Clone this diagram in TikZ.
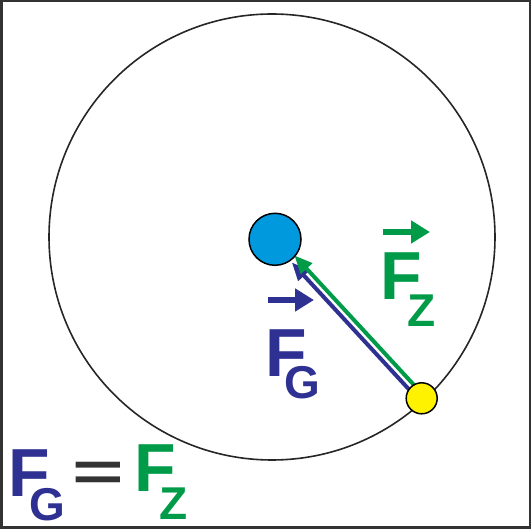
\documentclass[tikz,border=0pt]{standalone}
\usepackage{fontspec}
\setmainfont{Liberation Sans}
\usetikzlibrary{arrows.meta,calc}
\definecolor{fnavy}{HTML}{2E3192}
\definecolor{fgreen}{HTML}{009B48}
\definecolor{fblue}{HTML}{0099DD}
\definecolor{fyellow}{HTML}{FFF200}
\pgfdeclarelayer{bg}
\pgfsetlayers{bg,main}
\tikzset{
  bigF/.style={anchor=base west,inner sep=0pt,font=\fontsize{68}{68}\selectfont\bfseries},
  subL/.style={anchor=base west,inner sep=0pt,font=\fontsize{46}{46}\selectfont\bfseries},
  vecarrow/.style={line width=6pt,-{Triangle[length=19pt,width=22pt]}},
  forceline/.style={line width=4pt,-{Triangle[length=18pt,width=15pt]}},
  dot/.style={circle,draw=black,line width=1.5pt,inner sep=0pt}
}
\begin{document}
\begin{tikzpicture}[x=1pt,y=-1pt]
\useasboundingbox (0,0) rectangle (531,529);
\draw[line width=2.5pt,black!80] (1.25,1.25) rectangle (529.75,527.75);
% orbit
\node[circle,draw=black!85,line width=1.6pt,minimum size=446pt,inner sep=0pt] (orbit) at (272,237) {};
% bodies
\node[dot,fill=fblue,minimum size=52pt] (blu) at (275,239.3) {};
\node[dot,fill=fyellow,minimum size=31pt] (yel) at (421.7,398.3) {};
% force lines
\begin{pgfonlayer}{bg}
\draw[forceline,fnavy,shorten >=28.5pt] ($(yel.center)+(-2.45,2.25)$) -- ($(blu.center)+(-2.45,2.25)$);
\draw[forceline,fgreen,shorten >=25pt] ($(yel.center)+(2.45,-2.25)$) -- ($(blu.center)+(2.45,-2.25)$);
\end{pgfonlayer}
% F_G label
\node[bigF,text=fnavy] (fgF) at (265,376.5) {F};
\node[subL,text=fnavy] (fgG) at (284.5,399) {G};
\coordinate (fgA1) at (268,300);
\coordinate (fgA2) at (314,300);
\draw[vecarrow,fnavy] (fgA1) -- (fgA2);
% F_Z label
\node[bigF,text=fgreen] (fzF) at (380,300) {F};
\node[subL,text=fgreen] (fzZ) at (407,327) {Z};
\coordinate (fzA1) at (383,232);
\coordinate (fzA2) at (430,232);
\draw[vecarrow,fgreen] (fzA1) -- (fzA2);
% equation
\node[bigF,text=fnavy] (eqF1) at (8,497) {F};
\node[subL,text=fnavy] (eqG) at (29.5,521) {G};
\node[anchor=center,inner sep=0pt,text=black!80,font=\fontsize{68}{68}\selectfont\bfseries] (eqeq) at (98,476) {\scalebox{1.3}[0.8]{=}};
\node[bigF,text=fgreen] (eqF2) at (134,492) {F};
\node[subL,text=fgreen] (eqZ) at (159,520) {Z};
\end{tikzpicture}
\end{document}
